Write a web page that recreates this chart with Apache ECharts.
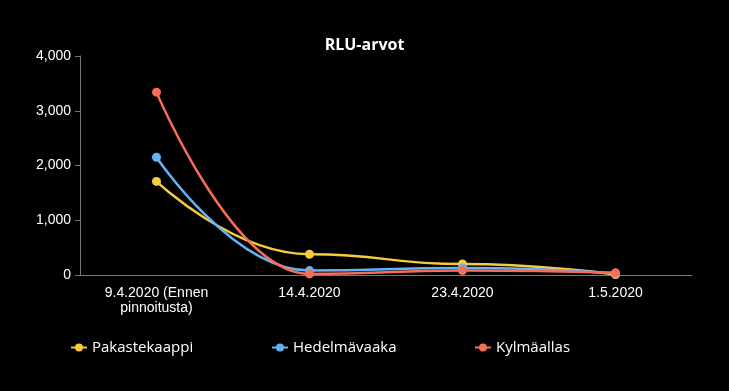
<!DOCTYPE html>
<html><head><meta charset="utf-8">
<script src="https://cdn.jsdelivr.net/npm/echarts@6/dist/echarts.min.js"></script>
<style>html,body{margin:0;padding:0;background:#000;}#c{width:729px;height:391px;}</style>
</head><body><div id="c"></div>
<script>
const categories = ['9.4.2020 (Ennen\npinnoitusta)', '14.4.2020', '23.4.2020', '1.5.2020'];
const seriesNames = ['Pakastekaappi', 'Hedelmävaaka', 'Kylmäallas'];
const pakastekaappi = [1710, 380, 200, 10];
const hedelmavaaka = [2150, 80, 130, 30];
const kylmaallas = [3340, 20, 80, 40];
const yTicks = { min: 0, max: 4000, interval: 1000 };
const colors = ['#f6cb3d', '#62b4f6', '#f76d5a'];
const legendLeft = [70, 271, 474];

const chart = echarts.init(document.getElementById('c'));
const axisFont = '"Liberation Sans", Arial, sans-serif';
chart.setOption({
  backgroundColor: '#000',
  color: colors,
  title: { text: 'RLU-arvot', left: 'center', top: 32, textStyle: { color: '#fff', fontSize: 16, fontWeight: 'bold', fontFamily: '"Open Sans", sans-serif' } },
  grid: { left: 80, right: 37, top: 56, bottom: 116 },
  legend: seriesNames.map((n, i) => ({
    bottom: 36, left: legendLeft[i], padding: 0, itemWidth: 16, itemHeight: 10,
    textStyle: { color: '#fff', fontSize: 15, fontFamily: '"Open Sans", sans-serif' },
    data: [n]
  })),
  xAxis: {
    type: 'category', data: categories, boundaryGap: true,
    axisLine: { lineStyle: { color: '#777' } },
    axisTick: { alignWithLabel: true, lineStyle: { color: '#777' } },
    axisLabel: { color: '#fff', fontSize: 14, fontFamily: axisFont, margin: 11, lineHeight: 15 }
  },
  yAxis: {
    type: 'value', min: yTicks.min, max: yTicks.max, interval: yTicks.interval,
    splitLine: { show: false },
    axisLine: { show: true, lineStyle: { color: '#777' } },
    axisTick: { show: true, lineStyle: { color: '#777' } },
    axisLabel: { color: '#fff', fontSize: 14, fontFamily: axisFont, margin: 9,
      formatter: v => v.toLocaleString('en-US') }
  },
  series: seriesNames.map((n, i) => ({
    name: n, type: 'line', smooth: 0.5, smoothMonotone: 'x',
    data: [pakastekaappi, hedelmavaaka, kylmaallas][i],
    symbol: 'circle', symbolSize: 9, lineStyle: { width: 2.5 }
  }))
});
</script></body></html>
